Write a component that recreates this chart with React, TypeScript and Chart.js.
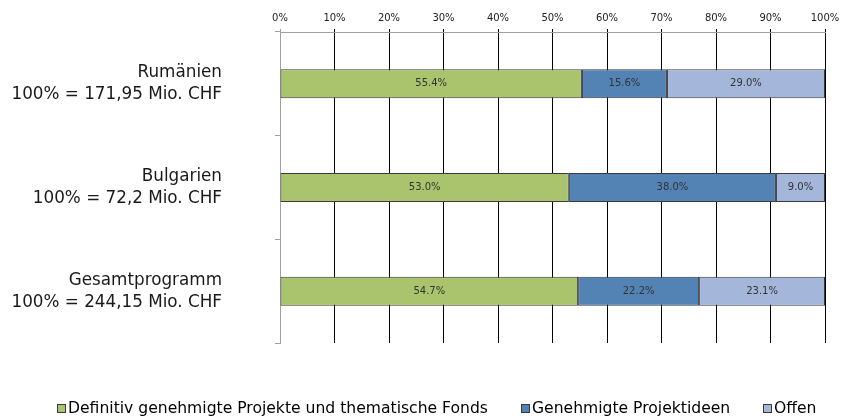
import React, { useEffect, useRef } from "react";
import { Chart, registerables } from "chart.js";

Chart.register(...registerables);

const categories: string[][] = [
  ["Rumänien", "100% = 171,95 Mio. CHF"],
  ["Bulgarien", "100% = 72,2 Mio. CHF"],
  ["Gesamtprogramm", "100% = 244,15 Mio. CHF"],
];
const seriesNames = [
  "Definitiv genehmigte Projekte und thematische Fonds",
  "Genehmigte Projektideen",
  "Offen",
];
const definitiv = [55.4, 53.0, 54.7];
const projektideen = [15.6, 38.0, 22.2];
const offen = [29.0, 9.0, 23.1];
const colors = ["#A9C46C", "#5383B5", "#A4B7DA"];
const FONT = "'DejaVu Sans', 'Open Sans', sans-serif";

const labelPlugin = {
  id: "barLabels",
  afterDatasetsDraw(chart: any) {
    const ctx = chart.ctx;
    ctx.save();
    ctx.font = `10px ${FONT}`;
    ctx.fillStyle = "#333333";
    ctx.textAlign = "center";
    ctx.textBaseline = "middle";
    chart.data.datasets.forEach((ds: any, di: number) => {
      const meta = chart.getDatasetMeta(di);
      meta.data.forEach((bar: any, i: number) => {
        const v = ds.data[i];
        const cx = (bar.x + bar.base) / 2;
        ctx.fillText(v.toFixed(1) + "%", cx, bar.y);
      });
    });
    ctx.restore();
  },
};

const legendPlugin = {
  id: "customLegend",
  afterDraw(chart: any) {
    const ctx = chart.ctx;
    const box = 8;
    const boxGap = 2;
    const itemGap = 34;
    const centerX = 436;
    const y = 408;
    ctx.save();
    ctx.font = `15.6px ${FONT}`;
    ctx.textBaseline = "middle";
    ctx.textAlign = "left";
    const items = chart.data.datasets.map((ds: any) => ({
      label: ds.label,
      color: ds.backgroundColor,
      w: ctx.measureText(ds.label).width,
    }));
    const total =
      items.reduce((s: number, it: any) => s + box + boxGap + it.w, 0) +
      itemGap * (items.length - 1);
    let x = Math.round(centerX - total / 2);
    items.forEach((it: any) => {
      ctx.fillStyle = it.color;
      ctx.fillRect(x + 0.5, y - box / 2 + 0.5, box, box);
      ctx.strokeStyle = "#3a3a3a";
      ctx.lineWidth = 1;
      ctx.strokeRect(x + 0.5, y - box / 2 + 0.5, box, box);
      ctx.fillStyle = "#000";
      ctx.fillText(it.label, x + box + boxGap + 1, y + 1);
      x = Math.round(x + box + boxGap + it.w + itemGap);
    });
    ctx.restore();
  },
};

export default function App() {
  const ref = useRef<HTMLCanvasElement>(null);
  useEffect(() => {
    if (!ref.current) return;
    const chart = new Chart(ref.current, {
      type: "bar",
      data: {
        labels: categories,
        datasets: [definitiv, projektideen, offen].map((d, i) => ({
          label: seriesNames[i],
          data: d,
          backgroundColor: colors[i],
          borderColor: "#3a3a3a",
          borderWidth: 1,
          borderSkipped: false,
          categoryPercentage: 1,
          barPercentage: 0.28,
        })),
      },
      options: {
        indexAxis: "y",
        animation: false,
        responsive: false,
        maintainAspectRatio: false,
        layout: { padding: { left: 0, right: 31, top: 0, bottom: 73 } },
        plugins: {
          tooltip: { enabled: false },
          legend: { display: false },
        },
        scales: {
          x: {
            position: "top",
            stacked: true,
            min: 0,
            max: 100,
            afterFit: (s: any) => {
              s.height = 32;
              s.paddingLeft = 0;
              s.paddingRight = 0;
            },
            ticks: {
              stepSize: 10,
              padding: 5,
              color: "#222",
              font: { family: FONT, size: 10 },
              callback: (v: any) => v + "%",
            },
            grid: {
              color: (c: any) => (c.index === 0 ? "#a0a0a0" : "#000"),
              tickLength: 3,
            },
            border: { color: "#a0a0a0" },
          },
          y: {
            stacked: true,
            afterFit: (s: any) => {
              s.width = 280;
              s.paddingTop = 0;
              s.paddingBottom = 0;
            },
            ticks: {
              padding: 53,
              color: "#1a1a1a",
              font: { family: FONT, size: 16.8, lineHeight: 1.31 },
            },
            grid: {
              offset: true,
              drawOnChartArea: false,
              color: "#a0a0a0",
              tickLength: 5,
            },
            border: { color: "#a0a0a0" },
          },
        },
      },
      plugins: [labelPlugin, legendPlugin],
    } as any);
    return () => chart.destroy();
  }, []);
  return (
    <div style={{ position: "fixed", left: 0, top: 0, width: 856, height: 416 }}>
      <canvas ref={ref} width={856} height={416} style={{ display: "block" }} />
    </div>
  );
}
